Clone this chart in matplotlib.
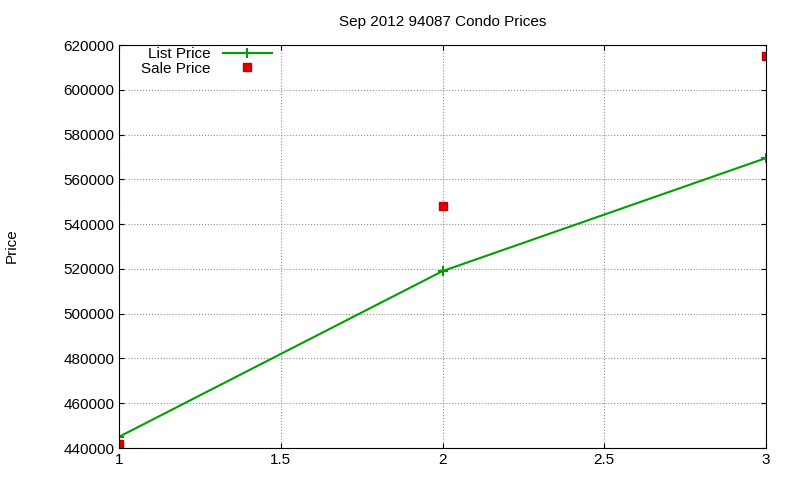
import matplotlib
matplotlib.use("Agg")
import matplotlib.pyplot as plt

x = [1, 2, 3]
list_price = [445000, 519000, 569500]
sale_price = [442000, 548000, 615000]
yticks = list(range(440000, 620001, 20000))
xticks = [1, 1.5, 2, 2.5, 3]

plt.rcParams['font.family'] = ['Liberation Sans', 'DejaVu Sans']
fig = plt.figure(figsize=(8, 4.8), dpi=100)
ax = fig.add_axes([119/800, 1-448/480, (766-119)/800, (448-45)/480])
ax.plot(x, list_price, color='#00a000', lw=1.5, marker='+', ms=7, mew=1.5, label='List Price')
ax.plot(x, sale_price, ls='none', marker='s', ms=6, color='#e00000', markeredgecolor='#c00000', label='Sale Price')
ax.set_xlim(1, 3)
ax.set_ylim(440000, 620000)
ax.set_xticks(xticks)
ax.set_xticklabels(['1', '1.5', '2', '2.5', '3'])
ax.set_yticks(yticks)
ax.set_yticklabels([str(v) for v in yticks])
ax.tick_params(direction='in', labelsize=11, top=True, right=True)
ax.grid(True, color='#909090', ls=':', lw=0.8)
ax.set_title('Sep 2012 94087 Condo Prices', fontsize=11, pad=14)
fig.text(12/800, 1-246/480, 'Price', rotation=90, ha='center', va='center', fontsize=11)
leg = ax.legend(loc='upper left', frameon=False, fontsize=11, markerfirst=False,
                borderaxespad=0.0, handlelength=3.2, labelspacing=0.05,
                bbox_to_anchor=(0.025, 1.01))
for t in leg.get_texts():
    t.set_ha('right')
leg._legend_box.align = 'right'
fig.savefig('out.png', dpi=100)
